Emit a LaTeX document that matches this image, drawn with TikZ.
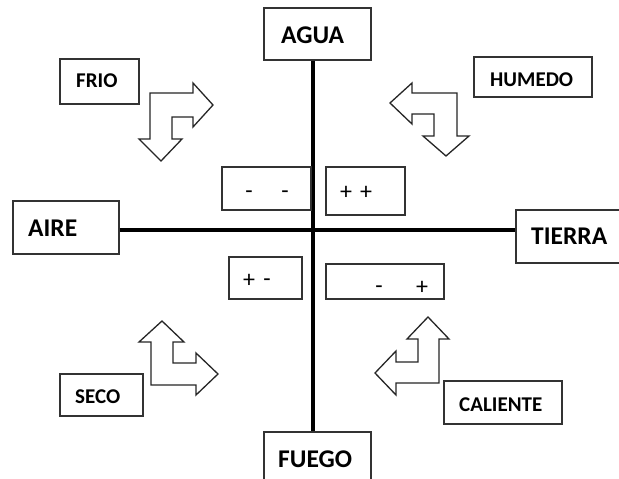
\documentclass[tikz,border=0pt]{standalone}
\usepackage{fontspec}
\setmainfont{Carlito}
\begin{document}
\begin{tikzpicture}[x=1pt,y=-1pt,
  box/.style={draw=black!80, line width=1.3pt, fill=white, inner sep=0pt},
  bigl/.style={font=\bfseries\fontsize{25.5}{25.5}\selectfont, inner sep=0pt, anchor=base west},
  smalll/.style={font=\bfseries\fontsize{21}{21}\selectfont, inner sep=0pt, anchor=base west},
  sign/.style={font=\fontsize{24}{24}\selectfont, inner sep=0pt, anchor=base},
  axis/.style={line width=3.4pt, black},
  barrow/.style={draw=black!85, line width=1.3pt, line join=miter, fill=white}]
\useasboundingbox (0,0) rectangle (619,479);
\fill[white] (0,0) rectangle (619,479);

% main boxes
\node[box, minimum width=107pt, minimum height=52pt] (agua) at (317.5,34) {};
\node[box, minimum width=107pt, minimum height=55pt] (fuego) at (317.5,459.5) {};
\node[box, minimum width=106pt, minimum height=53pt] (aire) at (66,227.5) {};
\node[box, minimum width=110pt, minimum height=53pt] (tierra) at (571,236.5) {};

% axes
\coordinate (vx) at (313,0);
\coordinate (hy) at (0,230);
\draw[axis] (vx |- agua.south) -- (vx |- fuego.north);
\draw[axis] (aire.east |- hy) -- (tierra.west |- hy);

% main labels
\node[bigl] (taguat) at (281,43) {AGUA};
\node[bigl] (tfuego) at (278,467) {FUEGO};
\node[bigl] (taire) at (28,236) {AIRE};
\node[bigl] (ttierra) at (531,244) {TIERRA};

% corner boxes
\node[box, minimum width=79pt, minimum height=45pt] (frio) at (99.5,81.5) {};
\node[smalll] (tfrio) at (76,87) {FRIO};
\node[box, minimum width=118pt, minimum height=40pt] (humedo) at (533,77) {};
\node[smalll] (thumedo) at (490,86) {HUMEDO};
\node[box, minimum width=83pt, minimum height=42pt] (seco) at (101.5,395) {};
\node[smalll] (tseco) at (75,403) {SECO};
\node[box, minimum width=118pt, minimum height=43pt] (caliente) at (503,402.5) {};
\node[smalll] (tcaliente) at (459,411) {CALIENTE};

% small sign boxes
\node[box, minimum width=89pt, minimum height=43pt] (mm) at (266.5,188.5) {};
\node[sign] (mm1) at (249,198) {-};
\node[sign] (mm2) at (285,198) {-};
\node[box, minimum width=79pt, minimum height=48pt] (pp) at (365.5,191) {};
\node[sign] (pp1) at (346,199) {+};
\node[sign] (pp2) at (366,199) {+};
\node[box, minimum width=73pt, minimum height=42pt] (pm) at (265.5,278) {};
\node[sign] (pm1) at (249,287) {+};
\node[sign] (pm2) at (267,286) {-};
\node[box, minimum width=118pt, minimum height=35pt] (mp) at (385,281.5) {};
\node[sign] (mp1) at (379,293) {-};
\node[sign] (mp2) at (422,294) {+};

% bent arrows
\draw[barrow] (150,93) -- (193,93) -- (193,83) -- (213,105) -- (193,127) -- (193,117)
  -- (172,117) -- (172,139) -- (182,139) -- (161,161) -- (139,139) -- (150,139) -- cycle;
\draw[barrow] (457,93) -- (412,93) -- (412,83) -- (390,103) -- (412,124) -- (412,114)
  -- (434,114) -- (434,136) -- (423,136) -- (446,156) -- (469,136) -- (457,136) -- cycle;
\draw[barrow] (151,385) -- (151,342) -- (139,342) -- (162,321) -- (184,342) -- (173,342)
  -- (173,363) -- (196,363) -- (196,353) -- (218,374) -- (196,395) -- (196,385) -- cycle;
\draw[barrow] (439,383) -- (439,339) -- (449,339) -- (428,317) -- (407,339) -- (418,339)
  -- (418,362) -- (396,362) -- (396,351) -- (375,373) -- (396,395) -- (396,383) -- cycle;
\end{tikzpicture}
\end{document}
